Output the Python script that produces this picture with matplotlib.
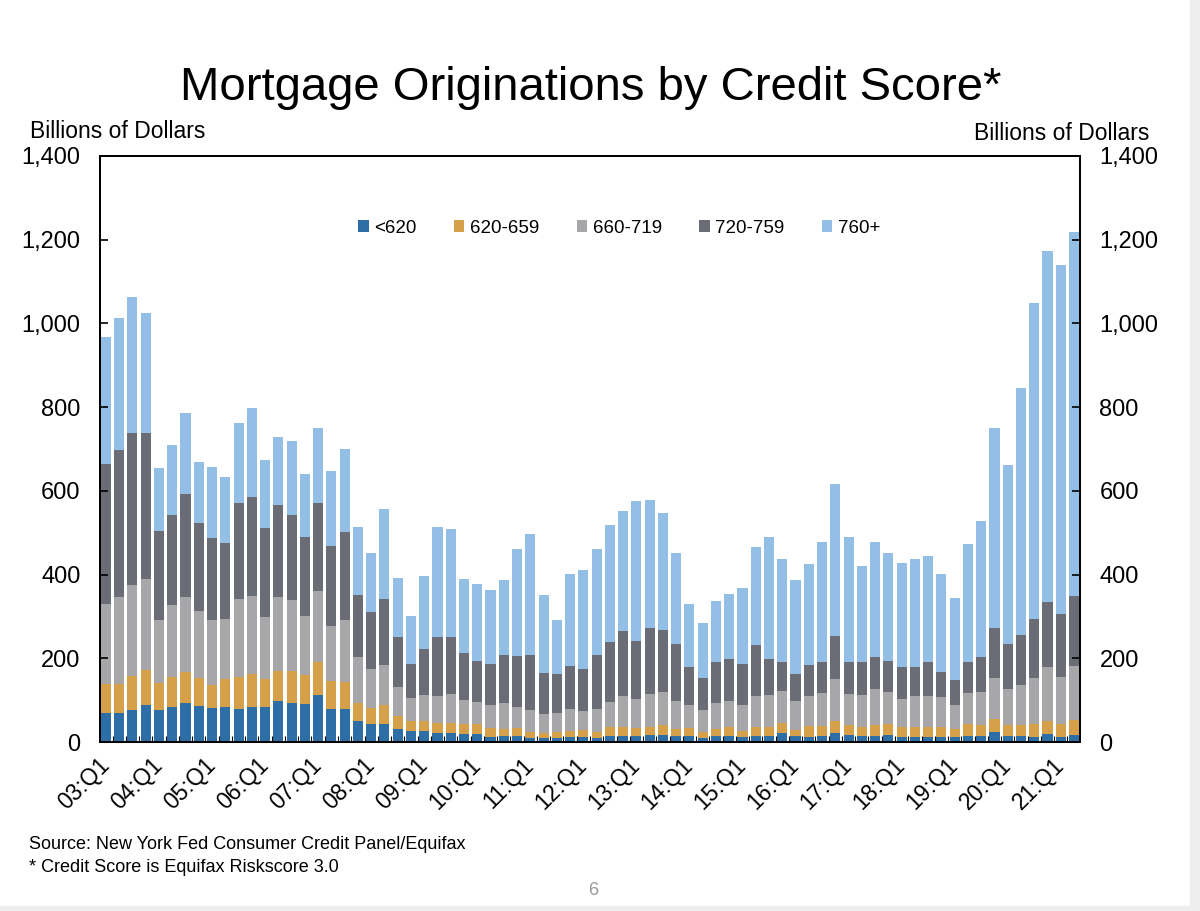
import numpy as np
import matplotlib
matplotlib.use('Agg')
from matplotlib import pyplot as plt
from matplotlib.ticker import FuncFormatter, MultipleLocator

plt.rcParams['font.family'] = ['Liberation Sans', 'DejaVu Sans']

# quarters 2003:Q1 .. 2021:Q2
quarters = [f'{y:02d}:Q{q}' for y in range(3, 22) for q in range(1, 5)][:74]

# billions of dollars
s_lt620 = [69, 69, 76, 88, 76, 84, 94, 86, 82, 84, 80, 84, 84, 98, 92, 90,
           112, 80, 78, 50, 43, 42, 30, 26, 27, 22, 21, 18, 18, 13, 14, 14,
           10, 9, 9, 11, 11, 9, 14, 14, 14, 16, 16, 14, 14, 9, 14, 14,
           13, 14, 14, 21, 14, 13, 14, 21, 16, 14, 15, 16, 12, 12, 12, 11,
           11, 15, 15, 24, 15, 14, 12, 18, 12, 16]
s_620_659 = [69, 69, 82, 84, 66, 71, 74, 66, 54, 66, 75, 78, 66, 72, 78, 70,
             79, 66, 65, 44, 39, 46, 32, 25, 24, 23, 24, 24, 24, 21, 16, 20,
             15, 13, 16, 16, 18, 16, 23, 23, 19, 21, 24, 18, 20, 16, 16, 21,
             14, 23, 23, 24, 15, 25, 24, 29, 25, 23, 25, 26, 23, 24, 24, 25,
             19, 28, 25, 31, 25, 26, 32, 33, 32, 37]
s_660_719 = [191, 208, 217, 217, 149, 172, 179, 162, 155, 143, 187, 187, 148, 176, 169, 141,
             170, 132, 148, 110, 92, 96, 70, 55, 62, 65, 70, 58, 53, 54, 64, 49,
             51, 45, 44, 51, 46, 55, 59, 74, 70, 78, 79, 67, 54, 51, 62, 64,
             61, 73, 75, 77, 69, 72, 80, 100, 73, 75, 87, 77, 68, 73, 75, 71,
             58, 73, 80, 98, 87, 97, 109, 127, 112, 129]
s_720_759 = [334, 351, 362, 348, 214, 216, 246, 210, 197, 182, 228, 237, 213, 219, 203, 189,
             209, 191, 210, 147, 137, 158, 118, 80, 109, 140, 137, 112, 99, 98, 113, 122,
             133, 97, 93, 104, 99, 127, 144, 155, 139, 158, 149, 134, 90, 76, 100, 100,
             98, 121, 87, 69, 64, 75, 74, 104, 76, 78, 77, 75, 75, 71, 79, 60,
             60, 76, 84, 119, 107, 119, 140, 157, 149, 167]
s_760p = [305, 317, 325, 289, 150, 166, 192, 146, 170, 157, 191, 213, 163, 163, 176, 151,
          181, 178, 200, 162, 140, 214, 142, 114, 174, 264, 258, 178, 183, 178, 180, 256,
          287, 186, 129, 220, 236, 253, 279, 285, 333, 304, 280, 218, 152, 132, 144, 154,
          181, 234, 290, 245, 226, 241, 285, 362, 300, 230, 274, 257, 249, 256, 254, 235,
          195, 281, 324, 479, 427, 590, 756, 839, 834, 869]

labels = ['<620', '620-659', '660-719', '720-759', '760+']
colors = ['#2E6EA6', '#D6A04B', '#A7A7A9', '#6A6D75', '#93BEE6']
series = [s_lt620, s_620_659, s_660_719, s_720_759, s_760p]

x = np.arange(len(quarters))

fig = plt.figure(figsize=(12, 9.11), dpi=100)
ax = fig.add_axes([0.0833, 0.1855, 0.8167, 0.6433])

bottom = np.zeros(len(x))
for vals, lab, col in zip(series, labels, colors):
    ax.bar(x, vals, width=0.76, bottom=bottom, color=col, label=lab, linewidth=0)
    bottom += np.array(vals)

ax.set_xlim(-0.45, 73.45)
ax.set_ylim(0, 1400)
ax.yaxis.set_major_locator(MultipleLocator(200))
ax.yaxis.set_major_formatter(FuncFormatter(lambda v, p: f'{int(v):,}'))
ax.tick_params(axis='y', direction='in', length=6, width=1.2, labelsize=17, pad=14)

# Q1 labels, small ticks between bars
ax.set_xticks(x[::4])
ax.set_xticklabels(quarters[::4], rotation=45, ha='right', va='center',
                   rotation_mode='anchor', fontsize=16.5)
ax.tick_params(axis='x', which='major', length=0, pad=14)
ax.set_xticks(x[:-1] + 0.5, minor=True)
ax.tick_params(axis='x', which='minor', direction='in', length=4, width=0.8)

for sp in ax.spines.values():
    sp.set_linewidth(1.3)

ax2 = ax.twinx()
ax2.set_ylim(0, 1400)
ax2.yaxis.set_major_locator(MultipleLocator(200))
ax2.yaxis.set_major_formatter(FuncFormatter(lambda v, p: f'{int(v):,}'))
ax2.tick_params(axis='y', direction='in', length=6, width=1.2, labelsize=17, pad=14)
for sp in ax2.spines.values():
    sp.set_linewidth(1.3)

leg = ax.legend(loc='upper center', bbox_to_anchor=(0.53, 0.92), ncol=5, frameon=False,
                fontsize=13.5, handlelength=0.55, handleheight=0.55, handletextpad=0.3,
                columnspacing=2.0)

fig.text(0.492, 0.89, 'Mortgage Originations by Credit Score*', ha='center', va='baseline',
         fontsize=34)
fig.text(0.025, 0.856, 'Billions of Dollars', ha='left', va='center', fontsize=16.5)
fig.text(0.958, 0.854, 'Billions of Dollars', ha='right', va='center', fontsize=16.5)
fig.text(0.024, 0.068, 'Source: New York Fed Consumer Credit Panel/Equifax', fontsize=13)
fig.text(0.024, 0.043, '* Credit Score is Equifax Riskscore 3.0', fontsize=13)
fig.text(0.49, 0.018, '6', fontsize=13, color='#999999')

# slide border
fig.patches.append(plt.Rectangle((0.992, 0), 0.008, 1, transform=fig.transFigure,
                                 color='#EEEEEE', zorder=0))
fig.patches.append(plt.Rectangle((0, 0), 1, 0.006, transform=fig.transFigure,
                                 color='#EEEEEE', zorder=0))

fig.savefig('out.png', dpi=100)
